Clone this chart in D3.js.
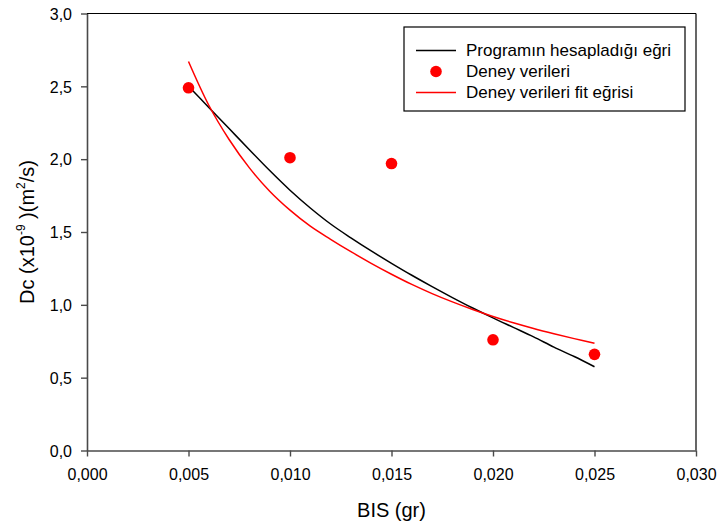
<!DOCTYPE html>
<html>
<head>
<meta charset="utf-8">
<script src="https://cdn.jsdelivr.net/npm/d3@7"></script>
<style>
  html, body { margin: 0; padding: 0; background: #fff; }
  svg { display: block; font-family: "Liberation Sans", Arial, sans-serif; }
</style>
</head>
<body>
<svg id="chart" width="719" height="528"></svg>
<script>
// Measured diffusion coefficients (Dc, x10^-9 m2/s) against BIS amount (gr)
const bisValues = [0.005, 0.010, 0.015, 0.020, 0.025];
const dcValues  = [2.49, 2.01, 1.97, 0.76, 0.66];

// Curve computed by the program
const programX = [0.005, 0.006, 0.007, 0.008, 0.009, 0.010, 0.011, 0.012, 0.013, 0.014, 0.015, 0.016, 0.017, 0.018, 0.019, 0.020, 0.021, 0.022, 0.023, 0.024, 0.025];
const programY = [2.50, 2.355, 2.21, 2.065, 1.922, 1.787, 1.665, 1.555, 1.46, 1.37, 1.285, 1.203, 1.125, 1.05, 0.978, 0.91, 0.845, 0.78, 0.71, 0.645, 0.575];

// Fit curve through the experimental data
const fitX = [0.005, 0.006, 0.007, 0.008, 0.009, 0.010, 0.011, 0.012, 0.013, 0.014, 0.015, 0.016, 0.017, 0.018, 0.019, 0.020, 0.021, 0.022, 0.023, 0.024, 0.025];
const fitY = [2.67, 2.37, 2.135, 1.94, 1.78, 1.65, 1.54, 1.45, 1.365, 1.285, 1.21, 1.14, 1.077, 1.02, 0.968, 0.92, 0.877, 0.838, 0.802, 0.768, 0.736];

const xTicks = [0, 0.005, 0.010, 0.015, 0.020, 0.025, 0.030];
const yTicks = [0, 0.5, 1.0, 1.5, 2.0, 2.5, 3.0];

const legendLabels = ["Programın hesapladığı eğri", "Deney verileri", "Deney verileri fit eğrisi"];

const locale = d3.formatLocale({ decimal: ",", thousands: ".", grouping: [3], currency: ["", ""] });
const fmtX = locale.format(".3f");
const fmtY = locale.format(".1f");

const svg = d3.select("#chart");
const m = { left: 87, right: 23, top: 13.5, bottom: 77.5 };
const W = 719, H = 528;

const x = d3.scaleLinear().domain([0, 0.030]).range([m.left, W - m.right]);
const y = d3.scaleLinear().domain([0, 3.0]).range([H - m.bottom, m.top]);

// Frame: top and right edges
svg.append("line").attr("x1", x(0)).attr("x2", x(0.030)).attr("y1", y(3)).attr("y2", y(3))
  .attr("stroke", "#000").attr("stroke-width", 1.2);
svg.append("line").attr("x1", x(0.030)).attr("x2", x(0.030)).attr("y1", y(3)).attr("y2", y(0))
  .attr("stroke", "#000").attr("stroke-width", 1.2);

// Axes
const xAxis = d3.axisBottom(x).tickValues(xTicks).tickFormat(fmtX).tickSize(6).tickSizeOuter(0);
const yAxis = d3.axisLeft(y).tickValues(yTicks).tickFormat(fmtY).tickSize(6).tickSizeOuter(0);

const gx = svg.append("g").attr("transform", `translate(0,${y(0)})`).call(xAxis);
const gy = svg.append("g").attr("transform", `translate(${x(0)},0)`).call(yAxis);

[gx, gy].forEach(g => {
  g.select(".domain").attr("stroke", "#4a4a4a").attr("stroke-width", 1.6);
  g.selectAll(".tick line").attr("stroke", "#4a4a4a").attr("stroke-width", 1.4);
  g.selectAll(".tick text").attr("fill", "#000").style("font-size", "16px")
    .style("font-family", '"Liberation Sans", Arial, sans-serif');
});
gx.selectAll(".tick text").attr("y", 0).attr("dy", 29.5);
gy.selectAll(".tick text").attr("x", -15).attr("dy", "0.36em");

// Axis titles
svg.append("text").attr("x", (x(0) + x(0.030)) / 2).attr("y", 517)
  .attr("text-anchor", "middle").style("font-size", "20px").text("BIS (gr)");

const yt = svg.append("text")
  .attr("transform", `translate(34,${(y(0) + y(3)) / 2}) rotate(-90)`)
  .attr("text-anchor", "middle").style("font-size", "20px");
yt.append("tspan").text("Dc (x10");
yt.append("tspan").attr("dy", -9).style("font-size", "12px").text("-9");
yt.append("tspan").attr("dy", 9).text(" )(m");
yt.append("tspan").attr("dy", -9).style("font-size", "12px").text("2");
yt.append("tspan").attr("dy", 9).text("/s)");

// Curves
const line = d3.line().x(d => x(d[0])).y(d => y(d[1])).curve(d3.curveCatmullRom);

svg.append("path").datum(programX.map((v, i) => [v, programY[i]]))
  .attr("d", line).attr("fill", "none").attr("stroke", "#000").attr("stroke-width", 1.5);

svg.append("path").datum(fitX.map((v, i) => [v, fitY[i]]))
  .attr("d", line).attr("fill", "none").attr("stroke", "#ff0000").attr("stroke-width", 1.5);

// Data points
svg.selectAll("circle.pt").data(bisValues.map((v, i) => [v, dcValues[i]]))
  .join("circle").attr("class", "pt")
  .attr("cx", d => x(d[0])).attr("cy", d => y(d[1])).attr("r", 5.8).attr("fill", "#ff0000");

// Legend
const lg = svg.append("g");
lg.append("rect").attr("x", 404).attr("y", 27).attr("width", 281).attr("height", 84)
  .attr("fill", "#fff").attr("stroke", "#000").attr("stroke-width", 1.2);
const rows = [50.5, 71.5, 92.5];
lg.append("line").attr("x1", 416).attr("x2", 456).attr("y1", rows[0]).attr("y2", rows[0])
  .attr("stroke", "#000").attr("stroke-width", 1.5);
lg.append("circle").attr("cx", 436).attr("cy", rows[1]).attr("r", 5.8).attr("fill", "#ff0000");
lg.append("line").attr("x1", 416).attr("x2", 456).attr("y1", rows[2]).attr("y2", rows[2])
  .attr("stroke", "#ff0000").attr("stroke-width", 1.5);
legendLabels.forEach((t, i) => {
  lg.append("text").attr("x", 466).attr("y", rows[i]).attr("dy", "0.33em")
    .style("font-size", "17px").text(t);
});
</script>
</body>
</html>
